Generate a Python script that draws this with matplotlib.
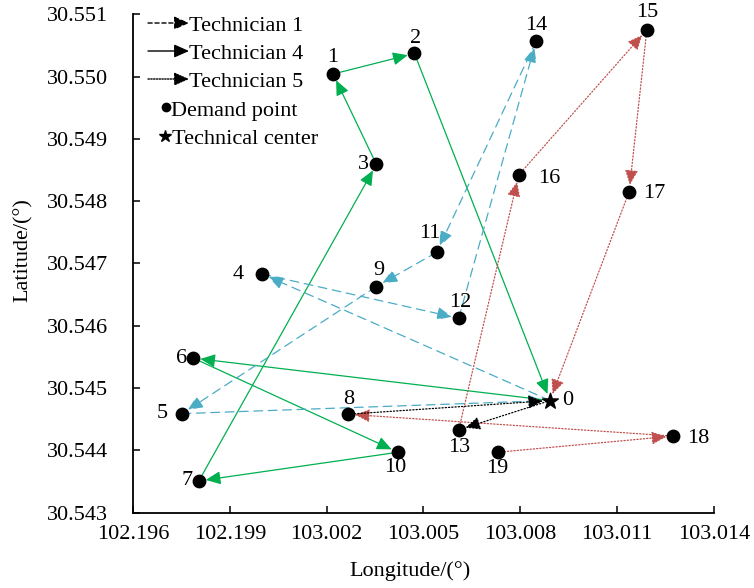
import matplotlib
matplotlib.use('Agg')
import matplotlib.pyplot as plt

plt.rcParams['font.family'] = ['Liberation Serif', 'DejaVu Serif']
plt.rcParams['font.size'] = 16

### data

# point coordinates (0 = technical center)
lon = [103.00892, 103.00220, 103.00472, 103.00354, 103.00000, 102.99752, 102.99787,
       102.99804, 103.00266, 103.00354, 103.00421, 103.00541, 103.00609, 103.00609,
       103.00849, 103.01192, 103.00795, 103.01137, 103.01274, 103.00730]
lat = [30.54480, 30.55004, 30.55037, 30.54859, 30.54683, 30.54459, 30.54548,
       30.54351, 30.54458, 30.54663, 30.54397, 30.54718, 30.54612, 30.54433,
       30.55057, 30.55075, 30.54842, 30.54815, 30.54423, 30.54397]

# routes
tech1 = [0, 4, 12, 14, 11, 9, 5, 0]
tech4 = [0, 6, 10, 7, 3, 1, 2, 0]
tech5_red = [[13, 16, 15, 17, 0], [19, 18, 8]]
tech5_black = [8, 0, 13]

# axes ticks
x_ticks = [102.996, 102.999, 103.002, 103.005, 103.008, 103.011, 103.014]
x_tick_labels = ['102.196', '102.199', '103.002', '103.005', '103.008', '103.011', '103.014']
y_ticks = [30.543, 30.544, 30.545, 30.546, 30.547, 30.548, 30.549, 30.550, 30.551]
y_tick_labels = ['30.543', '30.544', '30.545', '30.546', '30.547', '30.548', '30.549', '30.550', '30.551']

legend_labels = ['Technician 1', 'Technician 4', 'Technician 5', 'Demand point', 'Technical center']

# label offsets in pixels
label_offsets = {0: (18, 0), 1: (0, 17), 2: (1, 15), 3: (-13, 0), 4: (-24, 0), 5: (-20, 0),
                 6: (-12, 0), 7: (-12, 0), 8: (1, 15), 9: (2, 16), 10: (-3, -15),
                 11: (-7, 19), 12: (2, 16), 13: (0, -18), 14: (0, 15), 15: (0, 17),
                 16: (31, -4), 17: (25, -2), 18: (25, -2), 19: (-1, -16)}

BLUE = '#4BACC6'
GREEN = '#00B050'
RED = '#C0504D'
DOT = (0, (1, 1.6))
HEAD = '-|>,head_length=0.45,head_width=0.2'

### plot

W, H = 754, 588
fig = plt.figure(figsize=(W / 100, H / 100), dpi=100)
ax = fig.add_axes([133 / W, 1 - 512.7 / H, (714 - 133) / W, (512.7 - 14.2) / H])


def draw_path(path, color, ls, lw=0.9):
	for a, b in zip(path[:-1], path[1:]):
		ax.annotate('', xy=(lon[b], lat[b]), xytext=(lon[a], lat[a]),
		            arrowprops=dict(arrowstyle=HEAD, color=color, lw=lw, linestyle=ls,
		                            shrinkA=0, shrinkB=5, mutation_scale=20))


draw_path(tech4, GREEN, '-')
for p in tech5_red:
	draw_path(p, RED, DOT)
draw_path(tech1, BLUE, (0, (7, 4.5)))
draw_path(tech5_black, 'black', DOT)

ax.scatter(lon[1:], lat[1:], s=80, color='black', zorder=5)
ax.scatter(lon[:1], lat[:1], s=140, marker='*', color='black', zorder=5)

for i, (x, y) in enumerate(zip(lon, lat)):
	dx, dy = label_offsets[i]
	ax.annotate(str(i), (x, y), xytext=(dx, dy), textcoords='offset pixels',
	            ha='center', va='center', fontsize=16)

ax.set_xlim(x_ticks[0], x_ticks[-1])
ax.set_ylim(y_ticks[0], y_ticks[-1])
ax.set_xticks(x_ticks, x_tick_labels)
ax.set_yticks(y_ticks, y_tick_labels)
ax.tick_params(direction='in', length=5, width=1.1, labelsize=16)
ax.tick_params(axis='y', pad=18)
ax.tick_params(axis='x', pad=9)
for s in ['top', 'right']:
	ax.spines[s].set_visible(False)
for s in ['left', 'bottom']:
	ax.spines[s].set_linewidth(1.3)

ax.set_xlabel('Longitude/(°)', fontsize=16)
ax.set_ylabel('Latitude/(°)', fontsize=16)
ax.xaxis.set_label_coords(0.477, -0.097)
ax.yaxis.set_label_coords(-0.172, 0.527)

# legend drawn by hand
def fpos(x, y):
	return (x / W, 1 - y / H)

legend_styles = [(0, (3, 2)), '-', (0, (1, 1))]
legend_y = [23, 51, 79]
for lab, ls, y in zip(legend_labels[:3], legend_styles, legend_y):
	ax.annotate('', xy=fpos(189, y), xytext=fpos(148, y), xycoords='figure fraction',
	            textcoords='figure fraction',
	            arrowprops=dict(arrowstyle=HEAD, color='black', lw=1, linestyle=ls,
	                            shrinkA=0, shrinkB=0, mutation_scale=20), annotation_clip=False)
	fig.text(*fpos(189, y + 8), lab, ha='left', va='baseline', fontsize=16)

fig.add_artist(plt.Line2D([166 / W], [1 - 107 / H], marker='o', markersize=6, color='black',
                          transform=fig.transFigure))
fig.text(*fpos(171, 116), legend_labels[3], ha='left', va='baseline', fontsize=16)
fig.add_artist(plt.Line2D([165 / W], [1 - 136 / H], marker='*', markersize=9, color='black',
                          transform=fig.transFigure))
fig.text(*fpos(172, 144), legend_labels[4], ha='left', va='baseline', fontsize=16)

fig.savefig('out.png', dpi=100)
